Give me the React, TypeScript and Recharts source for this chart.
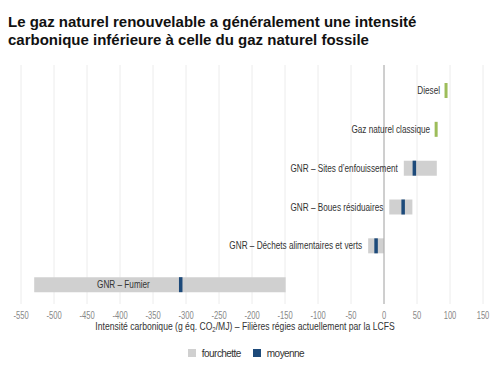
import React from 'react';
import { BarChart, Bar, XAxis, YAxis, CartesianGrid, ReferenceLine, LabelList, Legend } from 'recharts';

const categories = [
  'Diesel',
  'Gaz naturel classique',
  'GNR – Sites d’enfouissement',
  'GNR – Boues résiduaires',
  'GNR – Déchets alimentaires et verts',
  'GNR – Fumier',
];
const rangeLow = [null, null, 30, 8, -24, -530];
const rangeHigh = [null, null, 80, 43, 0, -149];
const meanValues = [null, null, 46, 29, -12, -308];
const fossilValues = [94, 79, null, null, null, null];
const xTicks = [-550, -500, -450, -400, -350, -300, -250, -200, -150, -100, -50, 0, 50, 100, 150];

const COLORS = {
  range: '#d0d0d0',
  mean: '#1d4a7a',
  fossil: '#9dbd5a',
  grid: '#ececec',
  zero: '#a8a8a8',
  label: '#333333',
  tick: '#888888',
};

const FONT = '"Liberation Sans", Arial, sans-serif';
const PLOT_LEFT = 21;

const chartData = categories.map((name, i) => ({
  name,
  range: rangeLow[i] != null ? [rangeLow[i], rangeHigh[i]] : null,
  mean: meanValues[i] != null ? [meanValues[i], meanValues[i]] : null,
  fossil: fossilValues[i] != null ? [fossilValues[i], fossilValues[i]] : null,
}));

// text in the source is a narrow face, so squeeze Liberation Sans horizontally
const NarrowText = ({ x, y, anchor = 'start', size = 10, fill = COLORS.label, scale = 0.82, children }: any) => (
  <text
    transform={`translate(${x},${y}) scale(${scale},1)`}
    textAnchor={anchor}
    fontSize={size}
    fontFamily={FONT}
    fill={fill}
  >
    {children}
  </text>
);

const valid = (n: any) => typeof n === 'number' && !isNaN(n);

const MarkShape = (color: string, w: number) => (props: any) => {
  const { x, y, height } = props;
  if (!valid(x) || !valid(y)) return null;
  return <rect x={x - w / 2} y={y} width={w} height={height} fill={color} />;
};

const RowLabel = (props: any) => {
  const { x, y, width, height, value } = props;
  if (!valid(x) || !valid(y) || !value) return null;
  const name = String(value);
  const baseline = y + height / 2 + 3.5;
  const approxWidth = name.length * 4.2;
  if (x - 6 - approxWidth < PLOT_LEFT) {
    // no room on the left: put it inside the bar
    return <NarrowText x={x + width * 0.25} y={baseline}>{name}</NarrowText>;
  }
  return <NarrowText x={x - 6} y={baseline} anchor="end">{name}</NarrowText>;
};

const XTick = (props: any) => {
  const { x, y, payload } = props;
  return (
    <NarrowText x={x} y={y + 6.5} anchor="middle" fill={COLORS.tick} scale={0.76}>
      {payload.value}
    </NarrowText>
  );
};

const AxisTitle = (props: any) => {
  const { viewBox } = props;
  if (!viewBox) return null;
  const cx = viewBox.x + viewBox.width / 2 - 7;
  return (
    <text
      transform={`translate(${cx},${viewBox.y + 26}) scale(0.86,1)`}
      textAnchor="middle"
      fontSize={10}
      fontFamily={FONT}
      fill={COLORS.label}
    >
      Intensité carbonique (g éq. CO
      <tspan fontSize={7} dy={2}>2</tspan>
      <tspan dy={-2}>/MJ) – Filières régies actuellement par la LCFS</tspan>
    </text>
  );
};

const LegendContent = (props: any) => {
  const items = (props.payload || []).filter((p: any) => p.type !== 'none');
  return (
    <div style={{ display: 'flex', justifyContent: 'center', alignItems: 'center', height: 14 }}>
      {items.map((item: any) => (
        <div key={item.value} style={{ display: 'flex', alignItems: 'center', margin: '0 6px' }}>
          <span style={{ width: 8, height: 8, background: item.color, display: 'inline-block', marginRight: 6 }} />
          <span style={{ fontFamily: FONT, fontSize: 10, color: COLORS.label, letterSpacing: -0.55 }}>{item.value}</span>
        </div>
      ))}
    </div>
  );
};

const App: React.FC = () => {
  return (
    <div style={{ position: 'absolute', left: 0, top: 0, width: 500, height: 371, background: '#fff' }}>
      <div
        style={{
          position: 'absolute',
          left: 8,
          top: 13,
          fontFamily: FONT,
          fontWeight: 'bold',
          fontSize: 15,
          lineHeight: '18px',
          color: '#111',
          whiteSpace: 'nowrap',
        }}
      >
        Le gaz naturel renouvelable a généralement une intensité
        <br />
        carbonique inférieure à celle du gaz naturel fossile
      </div>
      <BarChart
        width={500}
        height={371}
        data={chartData}
        layout="vertical"
        margin={{ top: 65, right: 17, left: PLOT_LEFT, bottom: 37 }}
        barSize={15}
        barGap={-15}
        style={{ position: 'absolute', left: 0, top: 0 }}
      >
        <CartesianGrid horizontal={false} stroke={COLORS.grid} />
        <XAxis
          type="number"
          domain={[-550, 150]}
          ticks={xTicks}
          interval={0}
          axisLine={false}
          tickLine={false}
          tickSize={6}
          tickMargin={2}
          height={30}
          tick={<XTick />}
          label={<AxisTitle />}
        />
        <YAxis type="category" dataKey="name" hide padding={{ top: 6, bottom: 0 }} />
        <ReferenceLine x={0} stroke={COLORS.zero} strokeWidth={1} />
        <Bar dataKey="range" name="fourchette" fill={COLORS.range} isAnimationActive={false}>
          <LabelList dataKey="name" content={<RowLabel />} />
        </Bar>
        <Bar
          dataKey="mean"
          name="moyenne"
          fill={COLORS.mean}
          shape={MarkShape(COLORS.mean, 3.5)}
          isAnimationActive={false}
        />
        <Bar
          dataKey="fossil"
          name="fossile"
          fill={COLORS.fossil}
          legendType="none"
          shape={MarkShape(COLORS.fossil, 3)}
          isAnimationActive={false}
        >
          <LabelList dataKey="name" content={<RowLabel />} />
        </Bar>
        <Legend
          verticalAlign="middle"
          align="center"
          layout="horizontal"
          content={<LegendContent />}
          wrapperStyle={{ left: 0, top: 346, width: 492 }}
        />
      </BarChart>
    </div>
  );
};

export default App;
